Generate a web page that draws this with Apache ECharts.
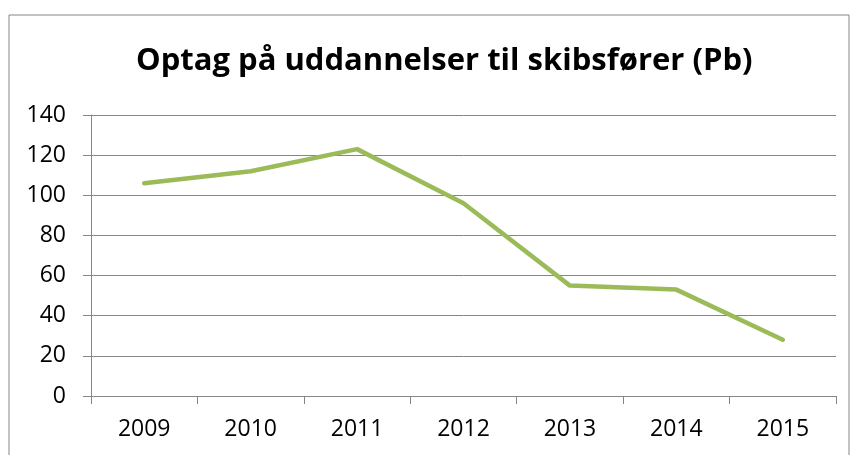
<!DOCTYPE html>
<html>
<head>
<meta charset="utf-8">
<script src="https://cdn.jsdelivr.net/npm/echarts@6/dist/echarts.min.js"></script>
<style>
  html, body { margin: 0; padding: 0; background: #fff; }
  #main { width: 851px; height: 455px; }
</style>
</head>
<body>
<div id="main"></div>
<script>
var years = ['2009', '2010', '2011', '2012', '2013', '2014', '2015']
var optag = [106, 112, 123, 96, 55, 53, 28]
var yTicks = { min: 0, max: 140, step: 20 }

var myChart = echarts.init(document.getElementById('main'))
var option = {
  animation: false,
  title: {
    text: 'Optag på uddannelser til skibsfører (Pb)',
    left: 131,
    top: 41,
    textStyle: {
      fontFamily: 'Open Sans',
      fontWeight: 'bold',
      fontSize: 31,
      color: '#000'
    }
  },
  graphic: [
    {
      type: 'rect',
      shape: { x: 9, y: 15, width: 840, height: 460 },
      style: { fill: 'none', stroke: '#868686', lineWidth: 1 }
    }
  ],
  grid: {
    left: 91,
    right: 15,
    top: 115,
    bottom: 59
  },
  xAxis: {
    type: 'category',
    data: years,
    boundaryGap: true,
    axisLine: { lineStyle: { color: '#868686', width: 1 } },
    axisTick: { show: true, length: 8, lineStyle: { color: '#868686' } },
    axisLabel: {
      margin: 22,
      fontFamily: 'Open Sans',
      fontSize: 23,
      color: '#000'
    }
  },
  yAxis: {
    type: 'value',
    min: yTicks.min,
    max: yTicks.max,
    interval: yTicks.step,
    axisLine: { show: true, lineStyle: { color: '#868686', width: 1 } },
    axisTick: { show: true, length: 8, lineStyle: { color: '#868686' } },
    splitLine: { lineStyle: { color: '#868686', width: 1 } },
    axisLabel: {
      margin: 25,
      fontFamily: 'Open Sans',
      fontSize: 23,
      color: '#000'
    }
  },
  series: [
    {
      name: 'Optag',
      type: 'line',
      data: optag,
      showSymbol: false,
      lineStyle: { color: '#9BBB59', width: 4.5, cap: 'round', join: 'round' }
    }
  ]
}
myChart.setOption(option)
</script>
</body>
</html>
